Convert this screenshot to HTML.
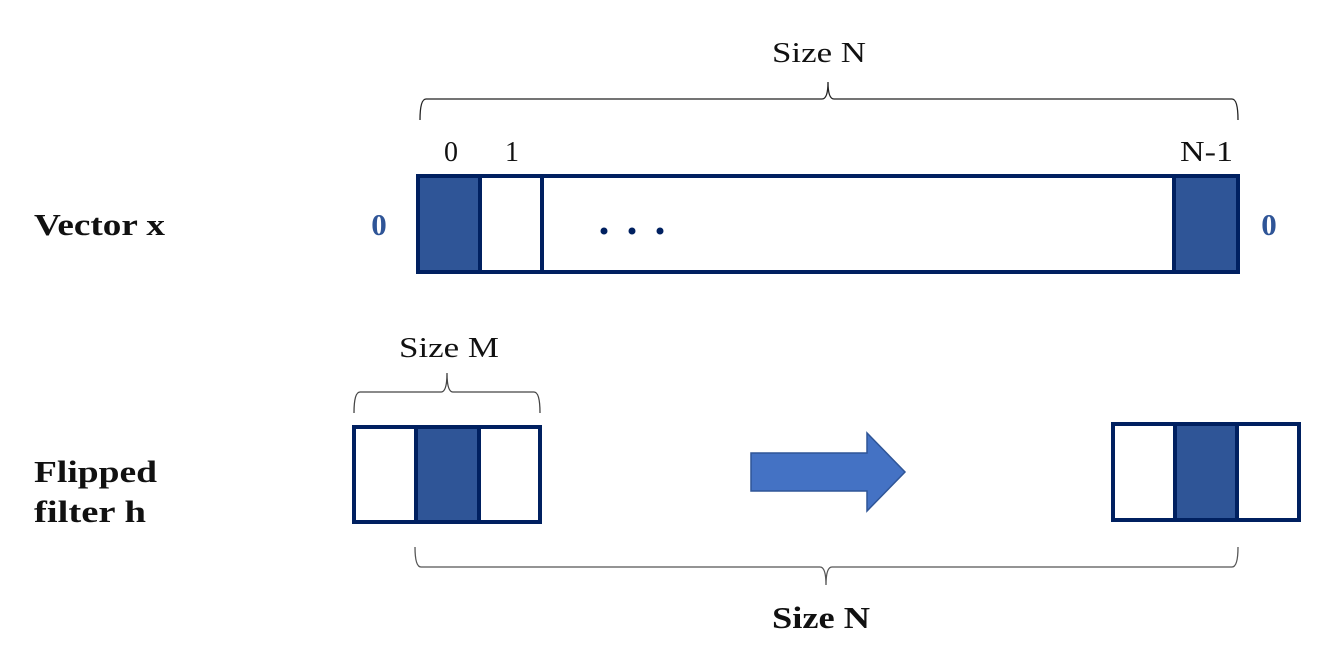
<!DOCTYPE html>
<html><head><meta charset="utf-8"><style>
html,body{margin:0;padding:0;background:#fff;}
svg{display:block;}
text{font-family:"Liberation Serif","DejaVu Serif",serif;}
</style></head><body>
<svg width="1329" height="669" viewBox="0 0 1329 669" xmlns="http://www.w3.org/2000/svg">
<path d="M420,120 Q420,99 426,99 L822,99 Q828,99 828,82 Q828,99 834,99 L1232,99 Q1238,99 1238,120" fill="none" stroke="#222" stroke-width="1.3"/>
<text x="772" y="62" font-size="29" textLength="94" lengthAdjust="spacingAndGlyphs" fill="#111">Size N</text>
<text x="451" y="161" font-size="28" text-anchor="middle" fill="#111">0</text>
<text x="512" y="161" font-size="28" text-anchor="middle" fill="#111">1</text>
<text x="1180" y="161" font-size="28" textLength="53" lengthAdjust="spacingAndGlyphs" fill="#111">N-1</text>
<rect x="418" y="176" width="62" height="96" fill="#2F5597"/>
<rect x="1174" y="176" width="64" height="96" fill="#2F5597"/>
<rect x="418" y="176" width="820" height="96" fill="none" stroke="#002060" stroke-width="4"/>
<line x1="480" y1="176" x2="480" y2="272" stroke="#002060" stroke-width="4"/>
<line x1="542" y1="176" x2="542" y2="272" stroke="#002060" stroke-width="4"/>
<line x1="1174" y1="176" x2="1174" y2="272" stroke="#002060" stroke-width="4"/>
<circle cx="604" cy="231" r="3.5" fill="#002060"/>
<circle cx="632" cy="231" r="3.5" fill="#002060"/>
<circle cx="660" cy="231" r="3.5" fill="#002060"/>
<text x="34" y="235" font-size="31" font-weight="bold" textLength="131" lengthAdjust="spacingAndGlyphs" fill="#111">Vector x</text>
<text x="379" y="235" font-size="31" font-weight="bold" text-anchor="middle" fill="#2F5597">0</text>
<text x="1269" y="235" font-size="31" font-weight="bold" text-anchor="middle" fill="#2F5597">0</text>
<text x="399" y="357" font-size="29" textLength="100" lengthAdjust="spacingAndGlyphs" fill="#111">Size M</text>
<path d="M354,413 Q354,392 360,392 L441,392 Q447,392 447,373 Q447,392 453,392 L534,392 Q540,392 540,413" fill="none" stroke="#444" stroke-width="1.3"/>
<rect x="416" y="427" width="63" height="95" fill="#2F5597"/>
<rect x="354" y="427" width="186" height="95" fill="none" stroke="#002060" stroke-width="4"/>
<line x1="416" y1="427" x2="416" y2="522" stroke="#002060" stroke-width="4"/>
<line x1="479" y1="427" x2="479" y2="522" stroke="#002060" stroke-width="4"/>
<rect x="1175" y="424" width="62" height="96" fill="#2F5597"/>
<rect x="1113" y="424" width="186" height="96" fill="none" stroke="#002060" stroke-width="4"/>
<line x1="1175" y1="424" x2="1175" y2="520" stroke="#002060" stroke-width="4"/>
<line x1="1237" y1="424" x2="1237" y2="520" stroke="#002060" stroke-width="4"/>
<path d="M751,453 L867,453 L867,433 L905,472 L867,511 L867,491 L751,491 Z" fill="#4472C4" stroke="#2F5597" stroke-width="1.5"/>
<text x="34" y="482" font-size="31" font-weight="bold" textLength="123" lengthAdjust="spacingAndGlyphs" fill="#111">Flipped</text>
<text x="34" y="522" font-size="31" font-weight="bold" textLength="112" lengthAdjust="spacingAndGlyphs" fill="#111">filter h</text>
<path d="M415,547 Q415,567 421,567 L820,567 Q826,567 826,585 Q826,567 832,567 L1232,567 Q1238,567 1238,547" fill="none" stroke="#555" stroke-width="1.3"/>
<text x="772" y="628" font-size="31" font-weight="bold" textLength="98" lengthAdjust="spacingAndGlyphs" fill="#111">Size N</text>
</svg>
</body></html>
